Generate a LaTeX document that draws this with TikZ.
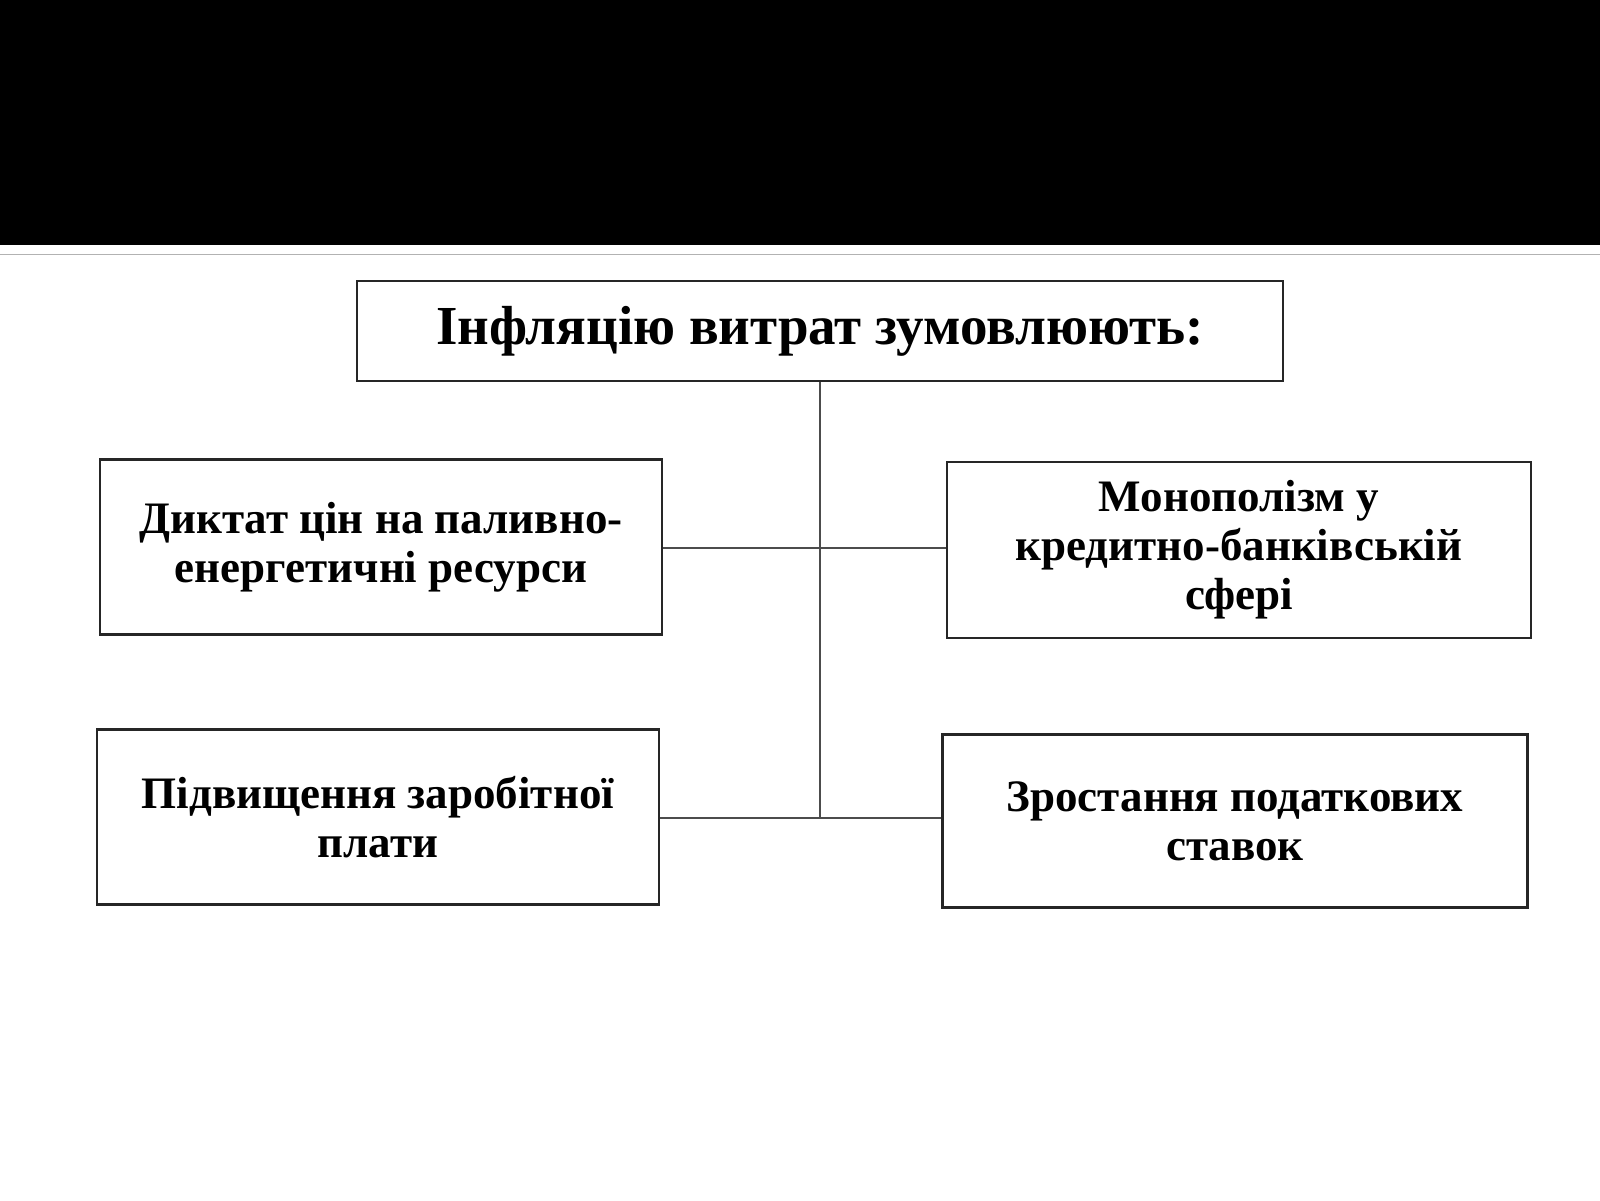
\documentclass[tikz,border=0pt]{standalone}
\usepackage{fontspec}
\setmainfont{Liberation Serif}
\begin{document}
\begin{tikzpicture}[x=1pt,y=-1pt,
 bx/.style={draw=black!85,line width=2.5pt,align=center,font=\fontsize{45}{49}\selectfont\bfseries,inner sep=0pt},
 ln/.style={draw=black!70,line width=1.5pt}]
\useasboundingbox (0,0) rectangle (1600,1200);
\fill[white] (0,0) rectangle (1600,1200);
\fill[black] (0,0) rectangle (1600,245);
\draw[gray!60,line width=1pt] (0,254) -- (1600,254);
\node[bx,minimum width=926pt,minimum height=100pt,font=\fontsize{55}{58}\selectfont\bfseries] (t) at (820,331) {Інфляцію витрат зумовлюють:};
\node[bx,minimum width=562pt,minimum height=175pt] (l1) at (381,547) {Диктат цін на паливно-\\енергетичні ресурси};
\node[bx,minimum width=584pt,minimum height=176pt] (r1) at (1239,550) {Монополізм у\\кредитно-банківській\\сфері};
\node[bx,minimum width=562pt,minimum height=175pt] (l2) at (378,817) {Підвищення заробітної\\плати};
\node[bx,minimum width=585pt,minimum height=173pt] (r2) at (1235,821) {Зростання податкових\\ставок};
\coordinate (m1) at (820,548);
\coordinate (m2) at (820,818);
\draw[ln] (t.south) -- (m2);
\draw[ln] (l1.east |- m1) -- (r1.west |- m1);
\draw[ln] (l2.east |- m2) -- (r2.west |- m2);
\end{tikzpicture}
\end{document}
